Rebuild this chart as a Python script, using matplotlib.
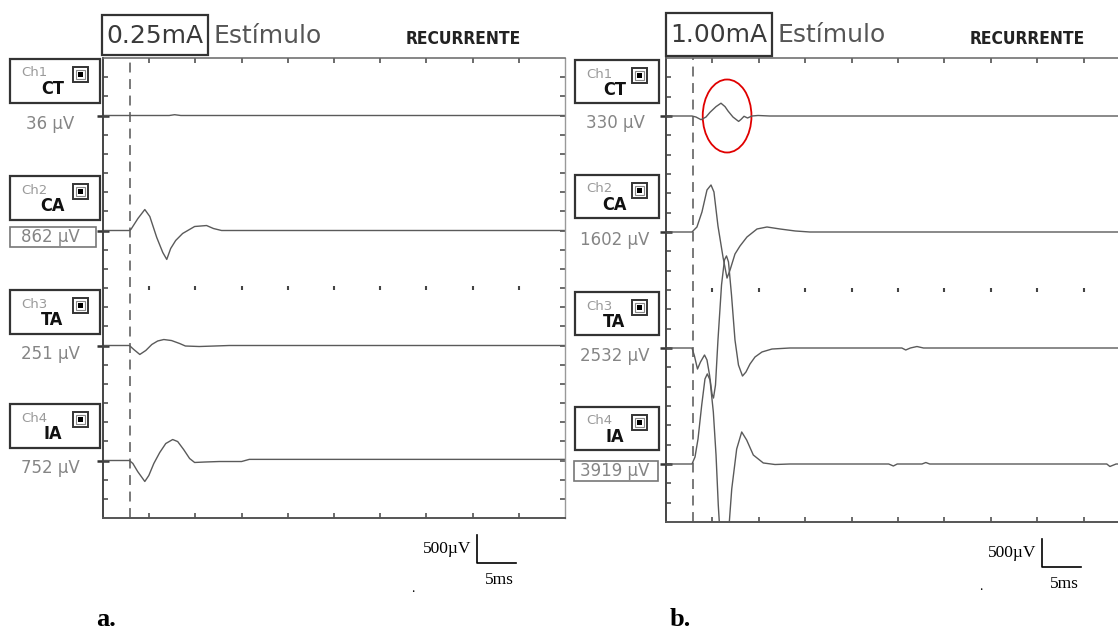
import numpy as np
import matplotlib
matplotlib.use("Agg")
import matplotlib.pyplot as plt
from matplotlib.patches import Rectangle, Ellipse

W, H = 1118, 629

# screen grid of the EMG machine
MS_PER_DIV = 6
UV_PER_DIV = 340
X_DIVS, Y_DIVS = 10, 24
CHANNEL_NUMS = [1, 2, 3, 4]
CHANNEL_NAMES = ["CT", "CA", "TA", "IA"]
CHANNEL_BASE_DIV = [21, 15, 9, 3]   # baseline of each channel, divisions from bottom
STIM_MS = 3.5
SCALE_MS, SCALE_UV = 5, 500

# panel a, 0.25 mA
A_STIM = "0.25mA"
A_AMPS = ["36 \u00b5V", "862 \u00b5V", "251 \u00b5V", "752 \u00b5V"]
A_CT_T = [0, 8.6, 9.3, 10.1, 60]
A_CT_UV = [0, 0, 14, 0, 0]
A_CA_T = [0, 3.4, 3.62, 4.53, 5.43, 6.08, 6.98, 7.76, 8.28, 8.79, 9.44, 10.34, 11.9, 13.45, 14.35, 15.4, 60]
A_CA_UV = [0, 0, 18, 212, 372, 248, -124, -389, -513, -319, -177, -53, 71, 88, 35, 0, 0]
A_TA_T = [0, 3.43, 4.0, 4.78, 5.56, 6.34, 7.1, 7.9, 8.9, 9.96, 10.7, 12.5, 14.5, 16.4, 60]
A_TA_UV = [0, 0, -71, -159, -88, 18, 80, 106, 88, 35, -9, -18, -9, 0, 0]
A_IA_T = [0, 3.43, 3.88, 4.5, 5.43, 5.95, 6.6, 7.37, 8.15, 9.05, 9.7, 10.47, 11.25, 11.9, 13.2, 15.1, 18.0, 19.0, 60]
A_IA_UV = [0, 0, -53, -195, -372, -266, -53, 142, 301, 372, 336, 195, 35, -35, -27, -18, -18, 20, 20]

# panel b, 1.00 mA
B_STIM = "1.00mA"
B_AMPS = ["330 \u00b5V", "1602 \u00b5V", "2532 \u00b5V", "3919 \u00b5V"]
B_CT_T = [0, 3.36, 3.88, 4.53, 5.17, 5.69, 6.47, 7.11, 7.63, 8.02, 8.66, 9.39, 9.7, 10.09, 10.54, 11.12, 11.9, 13.4, 60]
B_CT_UV = [0, 0, -18, -65, -18, 65, 165, 225, 165, 88, -18, -95, -60, -5, -35, 0, 9, 0, 0]
B_CA_T = [0, 3.36, 4.0, 4.65, 5.3, 5.82, 6.2, 6.72, 7.37, 7.89, 8.28, 8.92, 9.57, 10.47, 11.77, 13.06, 14.74, 16.7, 18.6, 60]
B_CA_UV = [0, 0, 88, 352, 739, 827, 704, 106, -440, -810, -669, -387, -246, -88, 53, 88, 53, 18, 0, 0]
B_TA_T = [0, 3.36, 3.68, 4.07, 4.46, 4.98, 5.3, 5.63, 5.95, 6.14, 6.4, 6.72, 7.18, 7.56, 7.82, 8.08, 8.47,
          8.92, 9.37, 9.89, 10.34, 10.86, 11.51, 12.41, 13.7, 16.0, 30.5, 31.0, 31.6, 32.45, 33.3, 60]
B_TA_UV = [0, 0, -141, -370, -246, -123, -211, -475, -810, -880, -651, 141, 1109, 1549, 1619, 1514, 933,
           141, -299, -493, -422, -282, -158, -70, -18, 0, 0, -35, 0, 26, 0, 0]
B_IA_T = [0, 3.36, 3.75, 4.14, 4.62, 5.04, 5.34, 5.69, 6.12, 6.47, 6.76, 7.05, 7.5, 7.95, 8.5, 9.14, 9.79,
          10.43, 11.29, 12.58, 14.1, 16.0, 28.8, 29.4, 29.9, 33.1, 33.6, 34.1, 57.0, 57.4, 58.2, 60]
B_IA_UV = [0, 0, 123, 440, 1038, 1496, 1584, 1478, 915, 158, -722, -1373, -2335, -1461, -440, 264, 563,
           422, 158, 18, -9, 0, 0, -35, 0, 0, 26, 0, 0, -44, 0, 0]

# the circled CT response in panel b (ms, µV above CT baseline)
MARK_T, MARK_UV, MARK_W, MARK_H = 7.9, 0, 6.3, 1284

TRACE = "#5a5a5a"
FRAME = "#444444"
NARROW = dict(family="DejaVu Sans", stretch="condensed", weight="bold")


def px_rect(left, top, right, bottom):
    return [left / W, 1 - bottom / H, (right - left) / W, (bottom - top) / H]


def draw_panel(ax, traces, right_side):
    ax.set_xlim(0, X_DIVS * MS_PER_DIV)
    ax.set_ylim(0, Y_DIVS * UV_PER_DIV)
    ax.patch.set_alpha(0)
    bases = [b * UV_PER_DIV for b in CHANNEL_BASE_DIV]
    xt = np.arange(1, X_DIVS) * MS_PER_DIV
    ax.set_xticks(xt)
    ax.set_yticks(bases)
    ax.set_yticks(np.arange(1, Y_DIVS) * UV_PER_DIV, minor=True)
    ax.yaxis.remove_overlapping_locs = False
    ax.tick_params(axis="x", which="major", direction="in", length=3.6, width=1.1, color=FRAME,
                   top=True, bottom=True, labelbottom=False)
    ax.tick_params(axis="y", which="minor", direction="in", length=3.6, width=1.1, color=FRAME,
                   left=True, right=right_side)
    ax.tick_params(axis="y", which="major", direction="inout", length=9, width=1.8, color="#333333",
                   left=True, right=False, labelleft=False)
    ax.spines["left"].set_color(FRAME)
    ax.spines["left"].set_linewidth(1.4)
    ax.spines["bottom"].set_color("#555555")
    ax.spines["bottom"].set_linewidth(1.4)
    ax.spines["top"].set_color("#666666")
    ax.spines["top"].set_linewidth(1.1)
    ax.spines["right"].set_color("#999999")
    ax.spines["right"].set_linewidth(1.0)
    ax.spines["right"].set_visible(right_side)

    # row of dots across the middle of the screen
    ax.plot(xt, [Y_DIVS / 2 * UV_PER_DIV] * len(xt), ls="none", marker="|", ms=3.5, mew=1.5, color=FRAME)
    ax.axvline(STIM_MS, ls=(0, (6.5, 4.3)), lw=1.1, color="#555555")

    for (t, uv), base in zip(traces, bases):
        ax.plot(t, np.array(uv) + base, color=TRACE, lw=1.0)

    # calibration bar below the screen
    x0, y0 = 8.1 * MS_PER_DIV, -2.35 * UV_PER_DIV
    ax.plot([x0, x0, x0 + SCALE_MS], [y0 + SCALE_UV, y0, y0], color="black", lw=1.2, clip_on=False)
    ax.annotate(f"{SCALE_UV}\u00b5V", xy=(x0, y0 + SCALE_UV / 2), xytext=(-4, 0), textcoords="offset points",
                ha="right", va="center", fontsize=12.5, family="Liberation Serif", annotation_clip=False)
    ax.annotate(f"{SCALE_MS}ms", xy=(x0 + SCALE_MS / 2, y0), xytext=(2, -12), textcoords="offset points",
                ha="center", va="center", fontsize=12.5, family="Liberation Serif", annotation_clip=False)
    return bases


def channel_box(ov, x, y, w, h, num, name):
    ov.add_patch(Rectangle((x, y), w, h, fill=False, ec="#333333", lw=1.6))
    ov.text(x + 0.13 * w, y + 14, f"Ch{num}", ha="left", va="center", fontsize=9.5, color="#9a9a9a")
    ov.text(x + 0.47 * w, y + 30, name, ha="center", va="center", fontsize=13, color="#111111", **NARROW)
    ix = x + w - 27
    ov.add_patch(Rectangle((ix, y + 8), 15, 15, fc="white", ec="#333333", lw=1.4))
    ov.add_patch(Rectangle((ix + 3, y + 11), 9, 9, fc="white", ec="#888888", lw=0.8))
    ov.add_patch(Rectangle((ix + 5, y + 13), 5, 5, fc="black", ec="none"))


def header(ov, left, top, bottom, stim):
    ov.add_patch(Rectangle((left, top), 106, bottom - top, fill=False, ec="#333333", lw=1.6))
    ov.text(left + 53, (top + bottom) / 2 + 1, stim, ha="center", va="center", fontsize=18, color="#3a3a3a")
    ov.text(left + 111, (top + bottom) / 2 + 1, "Est\u00edmulo", ha="left", va="center", fontsize=18,
            color="#555555")
    ov.text(left + 361, 39, "RECURRENTE", ha="center", va="center", fontsize=12.5, color="#222222", **NARROW)


fig = plt.figure(figsize=(W / 100, H / 100), dpi=100)

ax_a = fig.add_axes(px_rect(103, 58, 565, 518))
draw_panel(ax_a, [(A_CT_T, A_CT_UV), (A_CA_T, A_CA_UV), (A_TA_T, A_TA_UV), (A_IA_T, A_IA_UV)], True)

ax_b = fig.add_axes(px_rect(666, 58, 1130, 522))
bases_b = draw_panel(ax_b, [(B_CT_T, B_CT_UV), (B_CA_T, B_CA_UV), (B_TA_T, B_TA_UV), (B_IA_T, B_IA_UV)], False)
ax_b.add_patch(Ellipse((MARK_T, bases_b[0] + MARK_UV), MARK_W, MARK_H, fill=False, ec="#e00000", lw=1.3,
                       clip_on=False))

ov = fig.add_axes([0, 0, 1, 1])
ov.set_xlim(0, W)
ov.set_ylim(H, 0)
ov.axis("off")

header(ov, 102, 15, 55, A_STIM)
header(ov, 666, 13, 56, B_STIM)

a_tops = [59, 176, 290, 404]
b_tops = [60, 175, 292, 407]
for num, name, ta, tb in zip(CHANNEL_NUMS, CHANNEL_NAMES, a_tops, b_tops):
    channel_box(ov, 10, ta, 90, 44, num, name)
    channel_box(ov, 575, tb, 84, 43, num, name)

a_amp_y = [124, 237, 354, 468]
b_amp_y = [123, 240, 356, 471]
for i, (txt, y) in enumerate(zip(A_AMPS, a_amp_y)):
    ov.text(50, y, txt, ha="center", va="center", fontsize=12, color="#858585")
    if i == 1:
        ov.add_patch(Rectangle((10, y - 10), 86, 20, fill=False, ec="#777777", lw=1.2))
for i, (txt, y) in enumerate(zip(B_AMPS, b_amp_y)):
    ov.text(615, y, txt, ha="center", va="center", fontsize=12, color="#858585")
    if i == 3:
        ov.add_patch(Rectangle((574, y - 10), 84, 20, fill=False, ec="#777777", lw=1.2))

ov.text(413, 588, ".", ha="center", va="center", fontsize=10, family="Liberation Serif")
ov.text(981, 586, ".", ha="center", va="center", fontsize=10, family="Liberation Serif")
ov.text(96, 619, "a.", ha="left", va="center", fontsize=19, weight="bold", family="Liberation Serif")
ov.text(670, 619, "b.", ha="left", va="center", fontsize=19, weight="bold", family="Liberation Serif")

fig.savefig("out.png", dpi=100)
